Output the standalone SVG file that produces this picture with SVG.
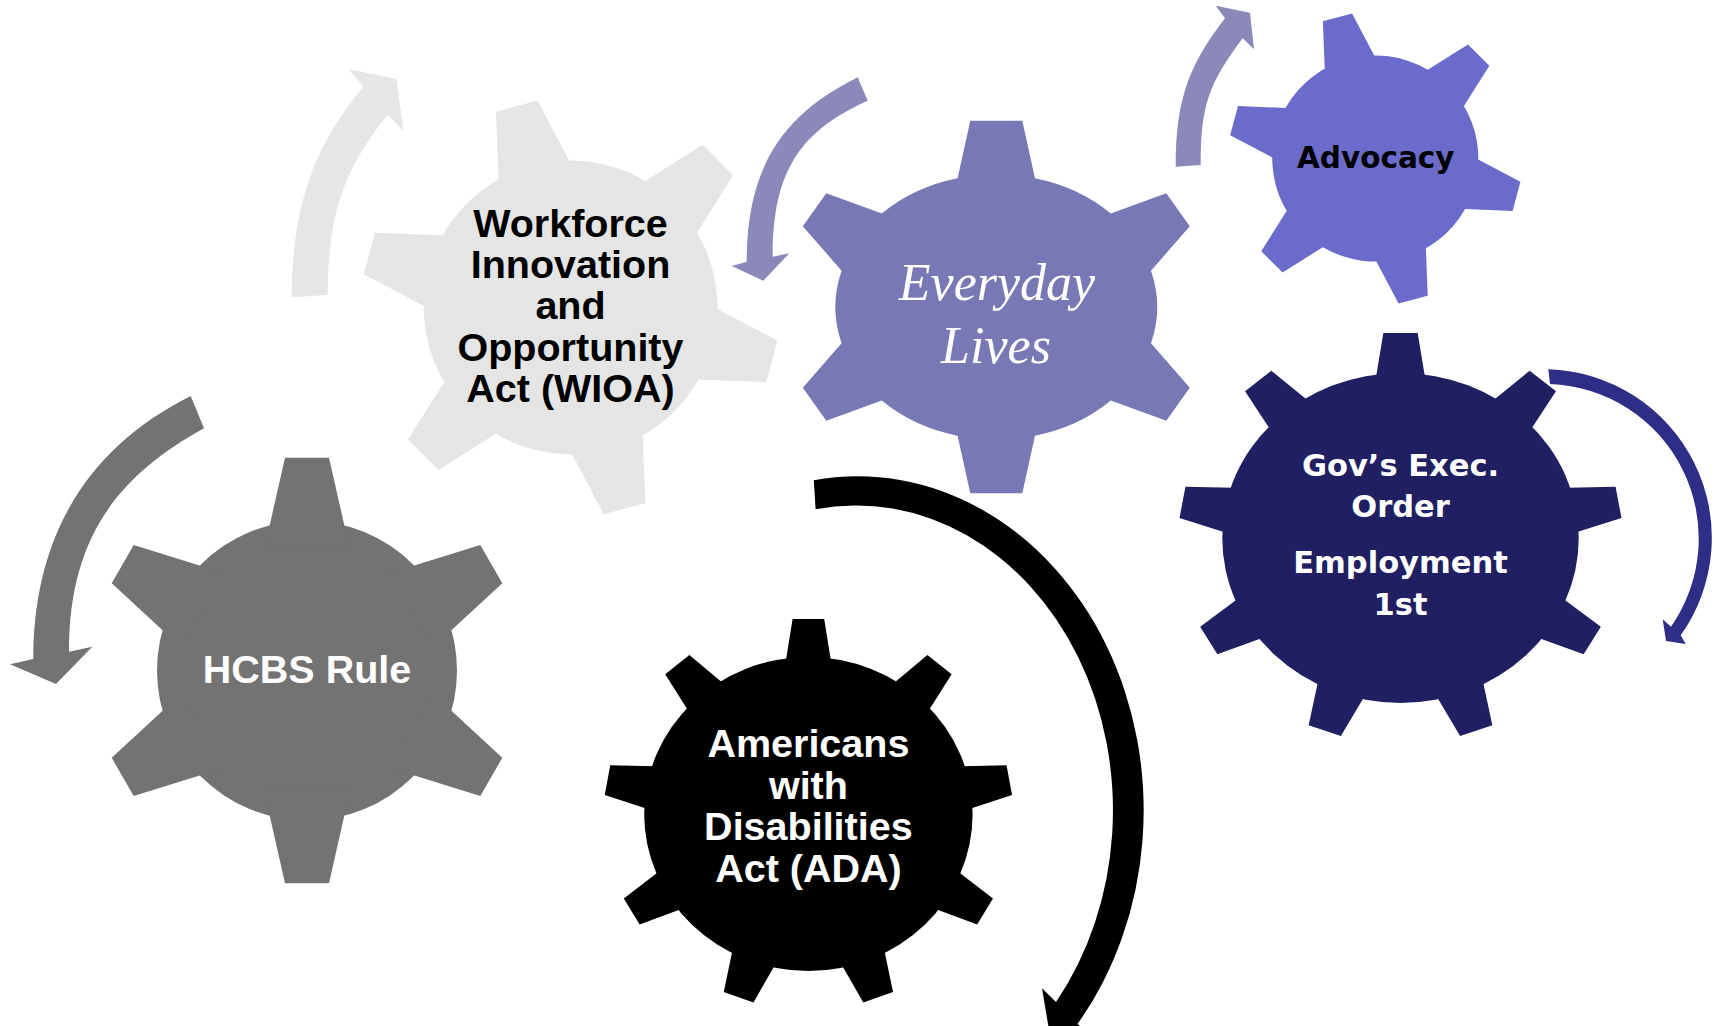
<svg xmlns="http://www.w3.org/2000/svg" width="1723" height="1026" viewBox="0 0 1723 1026">
<style>
.lbl{font-family:"Liberation Sans",Arial,sans-serif;font-weight:bold;text-anchor:middle}
.heavy{font-family:"DejaVu Sans",sans-serif;font-weight:bold;text-anchor:middle}
.script{font-family:"Liberation Serif","DejaVu Serif",serif;font-style:italic;text-anchor:middle}
</style>
<defs>
<g id="gear6">
<circle r="150"/>
<polygon id="tooth6" points="-22,-212.8 22,-212.8 43,-120 -43,-120"/>
<use href="#tooth6" transform="rotate(60)"/>
<use href="#tooth6" transform="rotate(120)"/>
<use href="#tooth6" transform="rotate(180)"/>
<use href="#tooth6" transform="rotate(240)"/>
<use href="#tooth6" transform="rotate(300)"/>
</g>
<g id="gear9">
<circle r="161"/>
<polygon id="tooth9" points="-15.5,-200 15.5,-200 25.5,-135 -25.5,-135"/>
<use href="#tooth9" transform="rotate(40)"/>
<use href="#tooth9" transform="rotate(80)"/>
<use href="#tooth9" transform="rotate(120)"/>
<use href="#tooth9" transform="rotate(160)"/>
<use href="#tooth9" transform="rotate(200)"/>
<use href="#tooth9" transform="rotate(240)"/>
<use href="#tooth9" transform="rotate(280)"/>
<use href="#tooth9" transform="rotate(320)"/>
</g>
</defs>
<rect width="1723" height="1026" fill="#ffffff"/>
<g id="arrows">
<path id="arrow-hcbs" fill="#737373" d="M190.7,396 C90.7,446 33.3,532.3 33.3,659 L10,664.3 L56,684 L92.3,646.7 L69,651.7 C69,538.3 117.3,476 204,428.3 Z"/>
<path id="arrow-wioa" fill="#e6e6e6" d="M291.7,297.3 C291.7,197.3 320,138.7 363.3,86.7 L348.3,69 L396.7,79 L403.3,131 L387.7,114.3 C351,162 327.7,201.7 327.7,295 Z"/>
<path id="arrow-everyday" fill="#8a89ba" d="M857.7,77.3 C784.3,114 746.7,165 746.7,261.7 L731.7,266 L763.3,280.7 L789.3,253.3 L772.7,256.7 C772.7,170 801,130.7 867.7,100.7 Z"/>
<path id="arrow-advocacy" fill="#8a89ba" d="M1175.7,166.7 C1175.7,100 1188.4,65.7 1225,18.3 L1215.7,5.7 L1250,12.7 L1254,49.3 L1242.7,38.3 C1208.7,83.7 1200.7,105 1200.7,165 Z"/>
<path id="arrow-gov" fill="#2e2e87" d="M1548.3,369.3 A168.5,168.5 0 0 1 1680.7,635.3 L1685.7,644 L1666,641 L1662.7,619.3 L1671,626.7 A154.5,154.5 0 0 0 1550,384 Z"/>
<path id="arrow-ada" fill="#000000" d="M813.8,480.3 A286,334 0 0 1 1077.5,1024 L1092.6,1036.5 L1050,1036 L1042,988.2 L1056,1001.9 A257,305 0 0 0 815.6,509.2 Z"/>
</g>
<g id="node-hcbs">
<use href="#gear6" transform="translate(307,670.5)" fill="#737373"/>
<text class="lbl" x="307" y="683.3" font-size="39.5" fill="#ffffff">HCBS Rule</text>
</g>
<g id="node-wioa">
<use href="#gear6" transform="translate(570.6,307.4) rotate(-15) scale(0.979)" fill="#e5e5e5"/>
<text class="lbl" font-size="39.5" fill="#000000"><tspan x="570.5" y="236.7">Workforce</tspan><tspan x="570.5" y="278">Innovation</tspan><tspan x="570.5" y="319.2">and</tspan><tspan x="570.5" y="360.5">Opportunity</tspan><tspan x="570.5" y="401.7">Act (WIOA)</tspan></text>
</g>
<g id="node-everyday">
<path transform="translate(996.3,307)" fill="#7878b4" d="M-38.7,-128.7 L-26,-186.3 L26,-186.3 L38.7,-128.7 A160,132 0 0 1 114.5,-93.5 L170,-113.8 L193.5,-80.8 L154.7,-36.3 A160,132 0 0 1 154.7,36.3 L193.5,80.8 L170,113.8 L114.5,93.5 A160,132 0 0 1 38.7,128.7 L26,186.3 L-26,186.3 L-38.7,128.7 A160,132 0 0 1 -114.5,93.5 L-170,113.8 L-193.5,80.8 L-154.7,36.3 A160,132 0 0 1 -154.7,-36.3 L-193.5,-80.8 L-170,-113.8 L-114.5,-93.5 A160,132 0 0 1 -38.7,-128.7 Z"/>
<text class="script" font-size="52" fill="#ffffff"><tspan x="997" y="300">Everyday</tspan><tspan x="996" y="363">Lives</tspan></text>
</g>
<g id="node-advocacy">
<use href="#gear6" transform="translate(1375.3,158.5) rotate(-15) scale(0.687)" fill="#6b6bcc"/>
<text class="heavy" x="1375.8" y="168.3" font-size="29.5" fill="#000000">Advocacy</text>
</g>
<g id="node-gov">
<use href="#gear9" transform="translate(1400.5,538) scale(1.107,1.025)" fill="#1f1f62"/>
<text class="heavy" font-size="30.5" fill="#ffffff"><tspan x="1400.5" y="476">Gov’s Exec.</tspan><tspan x="1400.5" y="516.7">Order</tspan><tspan x="1400.5" y="573.3">Employment</tspan><tspan x="1400.5" y="615">1st</tspan></text>
</g>
<g id="node-ada">
<use href="#gear9" transform="translate(808.4,814) scale(1.02,0.975)" fill="#000000"/>
<text class="lbl" font-size="39.5" fill="#ffffff"><tspan x="808.4" y="757">Americans</tspan><tspan x="808.4" y="798.5">with</tspan><tspan x="808.4" y="840">Disabilities</tspan><tspan x="808.4" y="881.5">Act (ADA)</tspan></text>
</g>
</svg>
